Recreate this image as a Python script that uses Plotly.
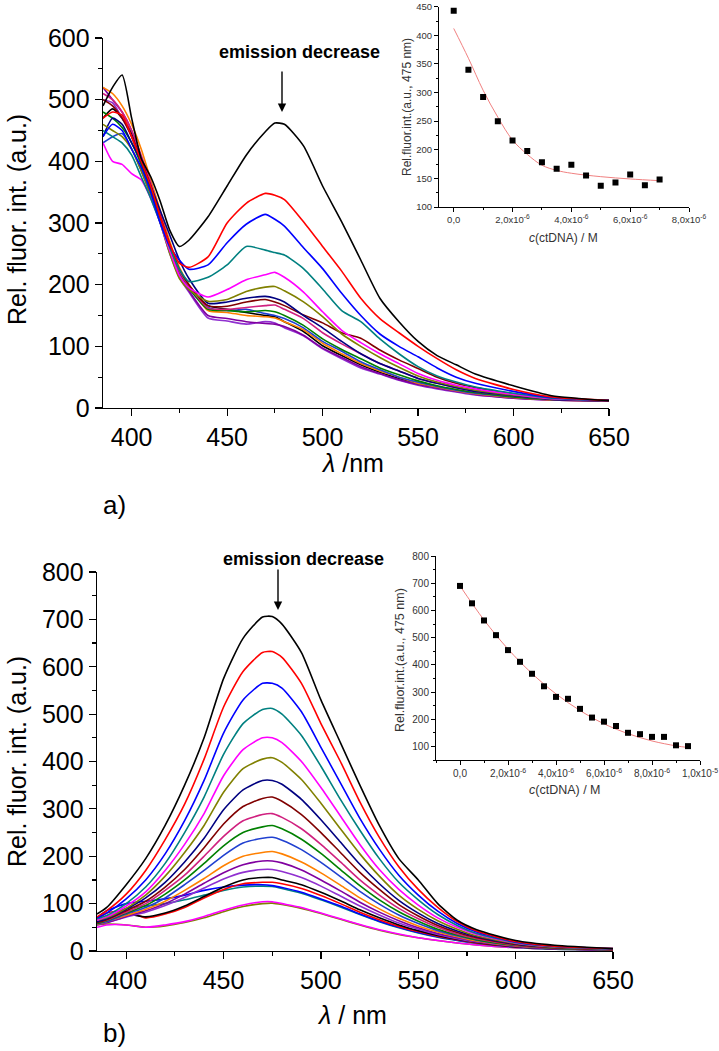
import plotly.graph_objects as go

# ---------------- data: panel a (spectra) ----------------
wl_a = [385, 390, 395, 400, 405, 410, 415, 420, 425, 430, 440, 450, 460, 470, 475,
        480, 490, 500, 510, 520, 530, 540, 550, 560, 570, 580, 600, 620, 650]
spec_a_black = [490, 520, 540, 470, 405, 375, 335, 288, 262, 272, 310, 360, 410, 448, 462, 460, 425, 360, 302, 240, 178, 140, 108, 85, 70, 55, 36, 20, 12]
spec_a_red = [470, 480, 475, 440, 400, 360, 310, 265, 235, 228, 245, 300, 332, 348, 345, 338, 302, 262, 222, 178, 145, 122, 100, 80, 62, 48, 30, 18, 12]
spec_a_blue = [440, 460, 450, 420, 390, 350, 300, 262, 240, 225, 232, 268, 298, 314, 306, 295, 260, 226, 186, 150, 120, 100, 83, 65, 50, 40, 27, 17, 12]
spec_a_teal = [450, 440, 430, 410, 375, 340, 300, 260, 225, 205, 212, 232, 262, 256, 252, 248, 226, 193, 158, 140, 112, 88, 67, 52, 42, 34, 24, 16, 12]
spec_a_magenta = [430, 400, 395, 380, 370, 340, 300, 255, 215, 195, 180, 192, 208, 216, 220, 212, 188, 156, 126, 106, 88, 72, 56, 45, 37, 31, 22, 15, 12]
spec_a_olive = [460, 450, 440, 420, 385, 345, 300, 250, 210, 192, 173, 176, 189, 196, 197, 190, 172, 148, 120, 100, 82, 66, 52, 42, 35, 29, 21, 15, 12]
spec_a_navy = [440, 470, 460, 430, 400, 360, 320, 280, 240, 210, 170, 172, 178, 181, 178, 172, 150, 130, 108, 88, 72, 60, 48, 40, 33, 27, 20, 14, 12]
spec_a_wine = [500, 490, 470, 440, 400, 360, 310, 265, 225, 200, 166, 165, 172, 176, 172, 166, 151, 138, 122, 113, 94, 78, 64, 50, 40, 33, 22, 15, 12]
spec_a_pink = [510, 500, 480, 450, 410, 365, 315, 265, 222, 198, 162, 160, 163, 166, 167, 160, 145, 122, 104, 88, 72, 60, 48, 40, 33, 27, 20, 14, 12]
spec_a_green = [480, 470, 455, 430, 395, 355, 305, 258, 220, 195, 160, 158, 156, 158, 156, 150, 134, 112, 95, 80, 65, 54, 44, 36, 30, 25, 18, 14, 12]
spec_a_royal = [430, 440, 445, 420, 385, 345, 300, 255, 218, 193, 163, 158, 160, 153, 150, 145, 130, 108, 92, 75, 62, 50, 42, 35, 29, 24, 18, 14, 12]
spec_a_orange = [520, 510, 490, 460, 420, 370, 320, 270, 228, 200, 158, 155, 150, 148, 146, 140, 127, 105, 88, 72, 60, 50, 40, 34, 28, 23, 17, 13, 12]
spec_a_purple = [520, 500, 480, 450, 405, 360, 305, 255, 215, 190, 150, 145, 140, 137, 136, 132, 118, 97, 82, 67, 56, 46, 38, 32, 27, 22, 16, 13, 11]
spec_a_violet = [500, 495, 470, 440, 395, 350, 300, 250, 212, 188, 146, 141, 136, 140, 138, 130, 117, 96, 80, 65, 55, 45, 37, 31, 26, 21, 16, 13, 11]
spec_a_black2 = [470, 485, 470, 445, 405, 360, 310, 262, 222, 196, 166, 160, 155, 150, 148, 140, 124, 101, 85, 70, 58, 48, 40, 33, 28, 23, 17, 13, 12]

# ---------------- data: panel b (spectra) ----------------
wl_b = [385, 390, 400, 410, 420, 430, 440, 450, 460, 470, 475, 480, 490,
        500, 510, 520, 530, 540, 550, 560, 570, 580, 600, 620, 650]
spec_b_black = [78, 92, 140, 195, 265, 350, 450, 575, 660, 705, 706, 690, 630, 530, 440, 350, 265, 195, 150, 100, 65, 45, 22, 12, 5]
spec_b_red = [72, 85, 120, 170, 235, 310, 405, 515, 590, 630, 632, 620, 565, 480, 400, 315, 240, 178, 130, 92, 62, 42, 20, 10, 5]
spec_b_blue = [70, 80, 110, 150, 205, 275, 360, 460, 530, 565, 565, 555, 505, 430, 355, 280, 215, 160, 118, 84, 58, 40, 19, 10, 5]
spec_b_teal = [68, 75, 100, 135, 185, 250, 325, 415, 480, 510, 512, 500, 455, 390, 320, 255, 195, 145, 108, 77, 54, 37, 18, 9, 4]
spec_b_magenta = [65, 72, 95, 125, 170, 225, 290, 370, 425, 450, 450, 440, 400, 345, 285, 225, 172, 130, 97, 70, 50, 35, 17, 9, 4]
spec_b_olive = [65, 70, 90, 118, 158, 208, 265, 335, 385, 405, 408, 398, 362, 312, 258, 205, 158, 118, 88, 64, 46, 32, 16, 8, 4]
spec_b_navy = [62, 68, 88, 112, 145, 188, 238, 298, 340, 360, 360, 352, 320, 277, 230, 183, 142, 107, 80, 58, 42, 30, 15, 8, 4]
spec_b_wine = [60, 66, 85, 105, 135, 172, 218, 268, 305, 322, 325, 316, 288, 250, 208, 166, 130, 98, 74, 54, 39, 28, 14, 7, 3]
spec_b_pink = [60, 65, 82, 100, 128, 160, 200, 242, 275, 288, 290, 282, 258, 225, 188, 150, 118, 90, 68, 50, 36, 26, 13, 7, 3]
spec_b_green = [58, 64, 80, 96, 120, 150, 185, 222, 250, 262, 265, 258, 236, 206, 172, 138, 108, 83, 63, 46, 34, 24, 12, 6, 3]
spec_b_royal = [58, 62, 78, 92, 112, 140, 170, 202, 228, 238, 240, 234, 214, 187, 157, 126, 99, 76, 58, 43, 32, 23, 12, 6, 3]
spec_b_orange = [57, 62, 75, 88, 105, 128, 153, 180, 200, 208, 210, 205, 188, 165, 139, 112, 89, 69, 53, 40, 30, 21, 11, 6, 3]
spec_b_purple = [56, 60, 73, 85, 100, 120, 143, 165, 182, 190, 190, 186, 171, 150, 127, 103, 82, 64, 49, 37, 28, 20, 10, 5, 3]
spec_b_violet = [55, 60, 72, 82, 96, 113, 133, 152, 166, 172, 172, 168, 155, 137, 116, 95, 76, 59, 46, 35, 26, 19, 10, 5, 3]
spec_b_black2 = [60, 70, 78, 72, 80, 95, 115, 135, 150, 155, 155, 150, 140, 124, 106, 87, 70, 55, 43, 33, 25, 18, 9, 5, 3]
spec_b_red2 = [65, 80, 85, 70, 78, 92, 112, 130, 142, 145, 145, 142, 132, 117, 100, 82, 66, 52, 41, 31, 24, 17, 9, 5, 3]
spec_b_blue2 = [70, 85, 100, 105, 110, 118, 128, 135, 139, 140, 138, 134, 124, 110, 95, 78, 63, 50, 39, 30, 23, 17, 9, 5, 3]
spec_b_teal2 = [62, 70, 90, 95, 100, 108, 118, 128, 135, 137, 136, 132, 122, 108, 93, 77, 62, 49, 38, 29, 22, 16, 8, 4, 3]
spec_b_magenta2 = [50, 55, 55, 50, 55, 62, 73, 86, 97, 104, 104, 100, 92, 80, 68, 56, 45, 36, 28, 22, 17, 13, 7, 4, 2]
spec_b_olive2 = [55, 57, 55, 50, 53, 60, 70, 83, 94, 100, 101, 98, 90, 79, 67, 55, 44, 35, 28, 22, 17, 13, 7, 4, 2]

# ---------------- data: insets ----------------
conc_a = [0, 0.5e-6, 1.0e-6, 1.5e-6, 2.0e-6, 2.5e-6, 3.0e-6, 3.5e-6, 4.0e-6, 4.5e-6,
          5.0e-6, 5.5e-6, 6.0e-6, 6.5e-6, 7.0e-6]
int_a = [443, 340, 292, 250, 216, 198, 178, 167, 174, 155, 137, 143, 157, 138, 148]
fit_conc_a = [0, 0.5e-6, 1.0e-6, 1.5e-6, 2.0e-6, 2.5e-6, 3.0e-6, 3.5e-6, 4.0e-6, 5.0e-6, 6.0e-6, 7.0e-6]
fit_int_a = [412, 360, 304, 257, 217, 192, 173, 164, 159, 153, 149, 146]

conc_b = [0, 0.5e-6, 1.0e-6, 1.5e-6, 2.0e-6, 2.5e-6, 3.0e-6, 3.5e-6, 4.0e-6, 4.5e-6,
          5.0e-6, 5.5e-6, 6.0e-6, 6.5e-6, 7.0e-6, 7.5e-6, 8.0e-6, 8.5e-6, 9.0e-6, 9.5e-6]
int_b = [690, 626, 563, 509, 454, 411, 367, 321, 282, 275, 238, 206, 191, 175, 150, 145, 135, 135, 104, 101]
fit_conc_b = [0, 1e-6, 2e-6, 3e-6, 4e-6, 5e-6, 6e-6, 7e-6, 8e-6, 9e-6, 9.5e-6]
fit_int_b = [690, 565, 458, 368, 293, 232, 183, 147, 120, 102, 96]

ticks_inset_a = [0, 2e-6, 4e-6, 6e-6, 8e-6]
labels_inset_a = ["0,0", "2,0x10<sup>-6</sup>", "4,0x10<sup>-6</sup>", "6,0x10<sup>-6</sup>", "8,0x10<sup>-6</sup>"]
ticks_inset_b = [0, 2e-6, 4e-6, 6e-6, 8e-6, 1e-5]
labels_inset_b = ["0,0", "2,0x10<sup>-6</sup>", "4,0x10<sup>-6</sup>", "6,0x10<sup>-6</sup>", "8,0x10<sup>-6</sup>", "1,0x10<sup>-5</sup>"]

# ---------------- styling ----------------
BLACK, RED, BLUE, TEAL, MAG, OLIVE = "#000000", "#FF0000", "#0000FF", "#008080", "#FF00FF", "#808000"
NAVY, WINE, PINK, GREEN, ROYAL, ORANGE = "#000080", "#800000", "#D0207F", "#008000", "#2040D0", "#FF8000"
PURPLE, VIOLET = "#8000A0", "#9030D0"

series_a = [(spec_a_black, BLACK), (spec_a_red, RED), (spec_a_blue, BLUE), (spec_a_teal, TEAL),
            (spec_a_magenta, MAG), (spec_a_olive, OLIVE), (spec_a_navy, NAVY), (spec_a_wine, WINE),
            (spec_a_pink, PINK), (spec_a_green, GREEN), (spec_a_royal, ROYAL), (spec_a_orange, ORANGE),
            (spec_a_purple, PURPLE), (spec_a_violet, VIOLET), (spec_a_black2, BLACK)]
series_b = [(spec_b_black, BLACK), (spec_b_red, RED), (spec_b_blue, BLUE), (spec_b_teal, TEAL),
            (spec_b_magenta, MAG), (spec_b_olive, OLIVE), (spec_b_navy, NAVY), (spec_b_wine, WINE),
            (spec_b_pink, PINK), (spec_b_green, GREEN), (spec_b_royal, ROYAL), (spec_b_orange, ORANGE),
            (spec_b_purple, PURPLE), (spec_b_violet, VIOLET), (spec_b_black2, BLACK), (spec_b_red2, RED),
            (spec_b_blue2, BLUE), (spec_b_teal2, TEAL), (spec_b_magenta2, MAG), (spec_b_olive2, OLIVE)]

W, H = 719, 1051
FONT = "Liberation Sans, Arial, sans-serif"

def px(x):
    return x / W

def py(y):
    return 1 - y / H

fig = go.Figure()

for vals, col in reversed(series_a):
    fig.add_trace(go.Scatter(x=wl_a, y=vals, mode="lines", xaxis="x", yaxis="y",
                             line=dict(color=col, width=1.6, shape="spline", smoothing=0.6),
                             showlegend=False, hoverinfo="skip"))
for vals, col in reversed(series_b):
    fig.add_trace(go.Scatter(x=wl_b, y=vals, mode="lines", xaxis="x3", yaxis="y3",
                             line=dict(color=col, width=1.6, shape="spline", smoothing=0.6),
                             showlegend=False, hoverinfo="skip"))

# insets
fig.add_trace(go.Scatter(x=fit_conc_a, y=fit_int_a, mode="lines", xaxis="x2", yaxis="y2",
                         line=dict(color="#F08080", width=1, shape="spline"), showlegend=False))
fig.add_trace(go.Scatter(x=conc_a, y=int_a, mode="markers", xaxis="x2", yaxis="y2",
                         marker=dict(symbol="square", size=6, color="black"), showlegend=False))
fig.add_trace(go.Scatter(x=fit_conc_b, y=fit_int_b, mode="lines", xaxis="x4", yaxis="y4",
                         line=dict(color="#F08080", width=1, shape="spline"), showlegend=False))
fig.add_trace(go.Scatter(x=conc_b, y=int_b, mode="markers", xaxis="x4", yaxis="y4",
                         marker=dict(symbol="square", size=6, color="black"), showlegend=False))

main_axis = dict(showline=True, linecolor="black", linewidth=1.3, ticks="outside", ticklen=7,
                 tickwidth=1.2, tickcolor="black", showgrid=False, zeroline=False, automargin=False,
                 tickfont=dict(family=FONT, size=25, color="black"))
inset_axis = dict(showline=True, linecolor="black", linewidth=1, ticks="outside", ticklen=4,
                  tickwidth=1, tickcolor="black", showgrid=False, zeroline=False, automargin=False,
                  tickfont=dict(family=FONT, size=9.5, color="#333333"))

fig.update_layout(
    width=W, height=H, margin=dict(l=0, r=0, t=0, b=0, pad=0, autoexpand=False),
    paper_bgcolor="white", plot_bgcolor="rgba(0,0,0,0)", showlegend=False,
    xaxis=dict(main_axis, domain=[px(103), px(609)], range=[385, 650], tickvals=[400, 450, 500, 550, 600, 650],
               minor=dict(ticks="outside", ticklen=4, dtick=25, tick0=375, tickcolor="black"), anchor="y"),
    yaxis=dict(main_axis, domain=[py(408), py(38)], range=[0, 600], dtick=100,
               minor=dict(ticks="outside", ticklen=4, dtick=50, tickcolor="black"), anchor="x"),
    xaxis2=dict(inset_axis, domain=[px(439), px(689)], range=[-0.5e-6, 8e-6], tickvals=ticks_inset_a,
                ticktext=labels_inset_a, minor=dict(ticks="outside", ticklen=2, dtick=1e-6, tickcolor="black"),
                anchor="y2"),
    yaxis2=dict(inset_axis, domain=[py(207), py(6.7)], range=[100, 450], dtick=50,
                minor=dict(ticks="outside", ticklen=2, dtick=25, tickcolor="black"), anchor="x2"),
    xaxis3=dict(main_axis, domain=[px(97), px(613)], range=[385, 650], tickvals=[400, 450, 500, 550, 600, 650],
                minor=dict(ticks="outside", ticklen=4, dtick=25, tick0=375, tickcolor="black"), anchor="y3"),
    yaxis3=dict(main_axis, domain=[py(951), py(572)], range=[0, 800], dtick=100,
                minor=dict(ticks="outside", ticklen=4, dtick=50, tickcolor="black"), anchor="x3"),
    xaxis4=dict(inset_axis, domain=[px(436), px(700)], range=[-1e-6, 1e-5], tickvals=ticks_inset_b,
                ticktext=labels_inset_b, minor=dict(ticks="outside", ticklen=2, dtick=1e-6, tickcolor="black"),
                anchor="y4"),
    yaxis4=dict(inset_axis, domain=[py(760), py(556)], range=[50, 800], dtick=100,
                minor=dict(ticks="outside", ticklen=2, dtick=50, tickcolor="black"), anchor="x4"),
)
fig.update_layout(yaxis4=dict(tickfont=dict(size=10)), xaxis4=dict(tickfont=dict(size=10)))

ann = []
def text(x, y, s, size, angle=0, color="black", bold=False):
    ann.append(dict(xref="paper", yref="paper", x=px(x), y=py(y), text=("<b>%s</b>" % s) if bold else s,
                    showarrow=False, textangle=angle, xanchor="center", yanchor="middle",
                    font=dict(family=FONT, size=size, color=color)))

# main axis titles
text(17, 220, "Rel. fluor. int. (a.u.)", 25, angle=-90)
text(352, 463, "<i>λ</i> /nm", 25)
text(114, 505, "a)", 26)
text(17, 762, "Rel. fluor. int. (a.u.)", 25, angle=-90)
text(352, 1015, "<i>λ</i> / nm", 25)
text(114, 1033, "b)", 26)

# emission decrease labels
text(299, 52, "emission decrease", 18, bold=True)
text(303, 559, "emission decrease", 18, bold=True)
for (xa, ytail, ytip) in [(282, 70, 112), (278, 568, 610)]:
    ann.append(dict(xref="paper", yref="paper", x=px(xa), y=py(ytip), ax=0, ay=-(ytip - ytail),
                    axref="pixel", ayref="pixel", text="", showarrow=True, arrowhead=2,
                    arrowsize=1.2, arrowwidth=1.4, arrowcolor="black"))

# inset titles
text(407, 107, "Rel.fluor.int.(a.u., 475 nm)", 12, angle=-90, color="#333333")
text(563, 238, "<i>c</i>(ctDNA) / M", 12, color="#333333")
text(400, 660, "Rel.fluor.int.(a.u., 475 nm)", 12.5, angle=-90, color="#333333")
text(565, 790, "<i>c</i>(ctDNA) / M", 12.5, color="#333333")

fig.update_layout(annotations=ann)
fig.write_html("out.html", config={"displayModeBar": False, "staticPlot": True},
               post_script="document.body.style.margin='0px';document.body.style.overflow='hidden';")
